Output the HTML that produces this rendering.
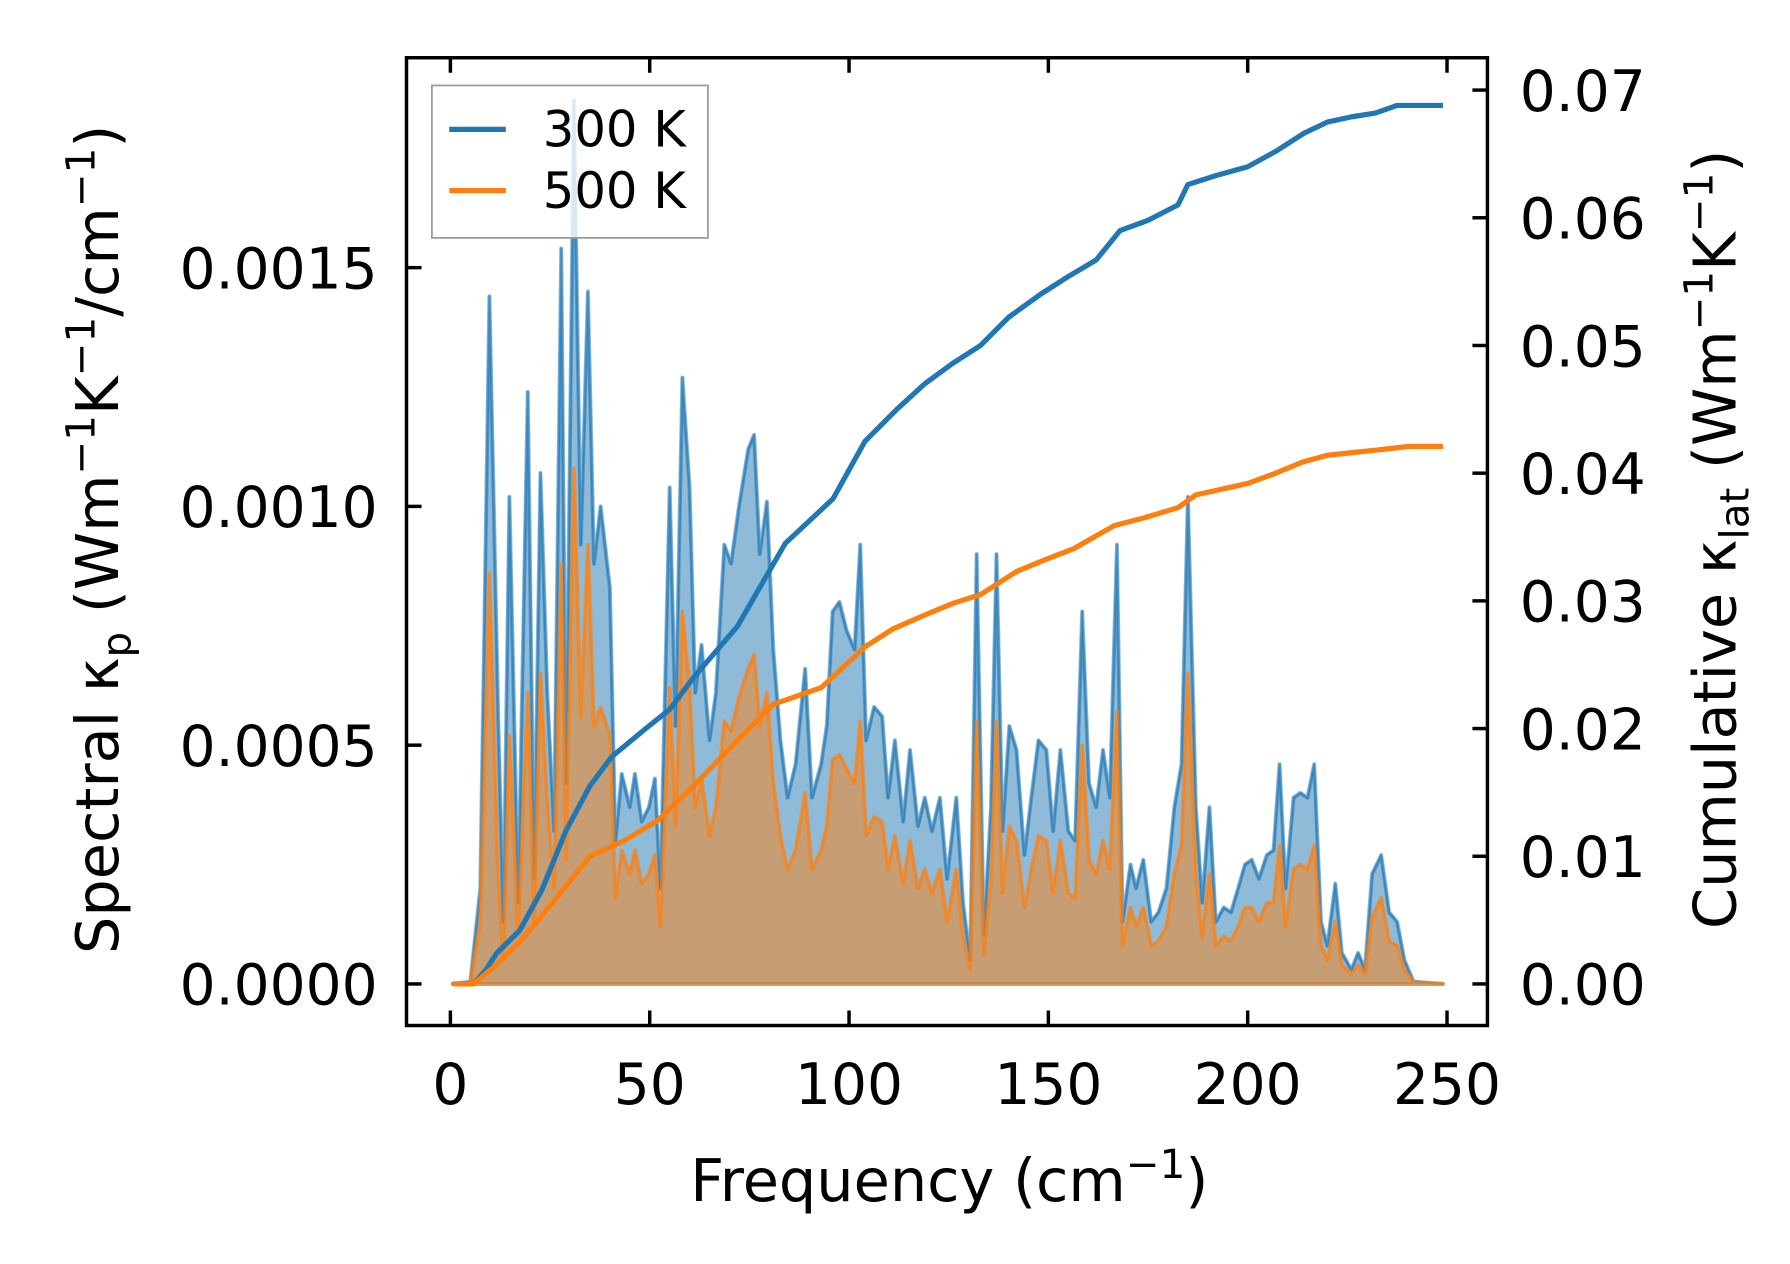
<!DOCTYPE html>
<html><head><meta charset="utf-8"><style>
html,body{margin:0;padding:0;background:#fff;}
svg{display:block;font-family:"DejaVu Sans","Liberation Sans",sans-serif;}
</style></head><body>
<svg id="chart" width="1790" height="1264" viewBox="0 0 1550 1094.5" preserveAspectRatio="none" xmlns="http://www.w3.org/2000/svg">
<g id="plot"></g>
<g id="axes"></g>
</svg>
<script>
// spectral data (freq in cm^-1, values in 1e-4 Wm^-1K^-1/cm^-1)
const freqs = [0.6,5,7.5,9.8,12,13.3,14.8,17,19.4,21,22.6,24.3,26,27.8,29,31,32.7,34.5,36,37.7,40,41.4,43,45,46.3,48,49.8,51.3,52.7,55,56.5,58.2,60,61.4,63,65,66.6,68.7,70.4,72.4,74.7,76.2,77.6,79.4,81,82.8,84.6,86.6,89,90.7,93,94.4,95.9,97.6,99.4,101.4,102.8,104.3,106.3,108.3,109.8,111.5,113.6,115.3,117.3,119,120.8,122.8,124.6,126.9,128.6,130.4,132,133.8,135.6,137,138.5,140.2,142,144,145.7,147.5,149.5,151.2,153,155,156.7,158.5,160.2,162,163.7,165.4,167.2,168.6,170.6,172,173.8,175.8,177.6,179.6,181.6,183.4,185,187,188.6,190.4,192,194,195.8,197.6,199.3,201,202.8,204.8,206.5,208,209.5,211.5,213.2,215,216.7,218.4,220,222,223.6,226,227.7,229.4,231.2,233.5,235.5,237.5,239.3,241.6,249];
const spec300 = [0,0.05,2,14.4,5.6,1.3,10.2,1.7,12.4,2.2,10.7,6.1,3.2,15.4,4.2,18.5,9.2,14.5,8.8,10,8.3,3,4.4,3.7,4.4,3.4,3.7,4.3,2,10.4,5.4,12.7,10.4,6.1,7.1,5.1,6.1,9.2,8.8,10,11.2,11.5,9,10.1,7,5.1,3.9,4.6,6.6,3.9,4.6,5.4,7.8,8,7.4,7,9.2,5.1,5.8,5.6,3.9,5.1,3.4,4.9,3.3,3.9,3.2,3.9,2.2,3.9,1.7,0.5,9,1,3.7,9,3.2,5.4,4.9,2.7,3.9,5.1,4.9,3.2,4.9,3.2,3,7.8,4.2,3.7,4.9,3.9,9.2,1.3,2.5,2,2.6,1.3,1.5,2,3.7,4.6,10.2,3.7,1.7,3.7,1.3,1.6,1.5,2,2.5,2.6,2.2,2.7,2.8,4.6,2,3.9,4,3.9,4.6,1.3,0.8,2.1,0.65,0.3,0.65,0.3,2.3,2.7,1.5,1.3,0.5,0.05,0];
const spec500 = [0,0.03,1.3,8.6,2.2,0.5,5.2,1,6.1,1.3,6.5,3.8,2,8.8,2.6,10.8,5.6,9.2,5.4,5.8,5.2,1.8,2.8,2.3,2.8,2.1,2.3,2.7,1.2,6.2,3.3,7.8,6.2,3.7,4.3,3.1,3.7,5.5,5.3,6,6.6,6.9,5.4,6.1,4.2,3.1,2.4,2.8,4,2.4,2.8,3.3,4.7,4.8,4.5,4.2,5.5,3.1,3.5,3.4,2.4,3.1,2.1,3,2,2.4,1.9,2.4,1.3,2.4,1,0.3,5.5,0.6,2.2,5.5,1.9,3.3,3,1.6,2.4,3.1,3,1.9,3,1.9,1.8,5,2.6,2.3,3,2.4,5.7,0.8,1.6,1.2,1.6,0.8,0.9,1.2,2.3,2.9,6.5,2.3,1,2.3,0.8,1,0.9,1.2,1.6,1.6,1.3,1.7,1.7,2.9,1.2,2.4,2.5,2.4,2.9,0.8,0.5,1.3,0.4,0.2,0.4,0.2,1.4,1.8,0.9,0.8,0.3,0.03,0];
// cumulative data (units 1e-3 Wm^-1K^-1)
const cumFreq300 = [0.6,5.8,8.7,11.6,17.4,23,29,35,40.5,49,55,61,72,84,96,104,112,119,126,133,140,148,155,162,168,175,182.5,185,192,200,207,214,220,226,232,237.5,249];
const cum300 = [0,0,1,2.4,4.2,7.4,12,15.5,17.8,20,21.5,24,28,34.5,38,42.5,45,47,48.6,50,52.2,54,55.4,56.7,59,59.8,61,62.6,63.3,64,65.2,66.6,67.5,67.9,68.2,68.8,68.8];
const cumFreq500 = [0.6,5.8,11.6,17.4,26,35,43.5,52,61,72.4,81,93,104,111,119,126,133,142,149,156.4,166.5,174,182.5,187,200,207,214,220,232,240.5,249];
const cum500 = [0,0,1.5,3.3,6.5,10,11.2,12.8,15.5,19.2,21.9,23.2,26.4,27.8,28.9,29.8,30.5,32.3,33.2,34.1,35.9,36.5,37.3,38.3,39.2,40,40.9,41.4,41.8,42.1,42.1];
const xTicks = [0,50,100,150,200,250];
const yLeftTicks = [0,0.0005,0.0010,0.0015];
const yLeftLabels = ["0.0000","0.0005","0.0010","0.0015"];
const yRightTicks = [0,0.01,0.02,0.03,0.04,0.05,0.06,0.07];
const yRightLabels = ["0.00","0.01","0.02","0.03","0.04","0.05","0.06","0.07"];

const L=352,R=1288,T=50,B=888;
const xs = f => 390 + f*(1253-390)/250;
const yl = v => 852 - v*413500;
const yr = v => 852 - v*11057;
const NS="http://www.w3.org/2000/svg";
const plot=document.getElementById('plot'), axes=document.getElementById('axes');
function mk(tag,parent,attrs){const e=document.createElementNS(NS,tag);for(const k in attrs)e.setAttribute(k,attrs[k]);parent.appendChild(e);return e;}

function specPath(vals){return freqs.map((f,i)=>(i?'L':'M')+xs(f).toFixed(1)+','+yl(vals[i]*1e-4).toFixed(1)).join('');}
[[spec300,'#1f77b4','300'],[spec500,'#ff7f0e','500']].forEach(([vals,c,n])=>{
  const line=specPath(vals);
  const area=mk('path',plot,{d:line+'L'+xs(freqs[freqs.length-1])+','+yl(0)+'L'+xs(freqs[0])+','+yl(0)+'Z',fill:c,'fill-opacity':0.5,stroke:c,'stroke-opacity':0.5,'stroke-width':3.5,'stroke-linejoin':'round'});
  
  
  const ln=mk('path',plot,{d:line,fill:'none',stroke:c,'stroke-opacity':0.6,'stroke-width':2,'stroke-linejoin':'round'});
  
  
});
[[cumFreq300,cum300,'#1f77b4','300'],[cumFreq500,cum500,'#ff7f0e','500']].forEach(([fq,vals,c,n])=>{
  const d=fq.map((f,i)=>(i?'L':'M')+xs(f).toFixed(1)+','+yr(vals[i]*1e-3).toFixed(1)).join('');
  const ln=mk('path',plot,{d:d,fill:'none',stroke:c,'stroke-width':4.5,'stroke-linejoin':'round'});
  
  
});

const fr=mk('rect',axes,{x:L,y:T,width:R-L,height:B-T,fill:'none',stroke:'#000','stroke-width':3});


xTicks.forEach(t=>{
  const x=xs(t);
  mk('line',axes,{x1:x,x2:x,y1:B,y2:B-13,stroke:'#000','stroke-width':3});
  mk('line',axes,{x1:x,x2:x,y1:T,y2:T+13,stroke:'#000','stroke-width':3});
  const tx=mk('text',axes,{x:x,y:B+68,'font-size':49,'text-anchor':'middle'});tx.textContent=t;
  
  
});
yLeftTicks.forEach((t,i)=>{
  const y=yl(t);
  mk('line',axes,{x1:L,x2:L+13,y1:y,y2:y,stroke:'#000','stroke-width':3});
  const tx=mk('text',axes,{x:L-25,y:y+18,'font-size':49,'text-anchor':'end'});tx.textContent=yLeftLabels[i];
  
  
});
yRightTicks.forEach((t,i)=>{
  const y=yr(t);
  mk('line',axes,{x1:R,x2:R-13,y1:y,y2:y,stroke:'#000','stroke-width':3});
  const tx=mk('text',axes,{x:R+28,y:y+18,'font-size':49,'text-anchor':'start'});tx.textContent=yRightLabels[i];
  
  
});
</script>
<svg style="position:absolute;left:0;top:0" width="1790" height="1264" viewBox="0 0 1550 1094.5" preserveAspectRatio="none" xmlns="http://www.w3.org/2000/svg" font-family="DejaVu Sans, Liberation Sans, sans-serif">
<g>
<rect x="374" y="74" width="239" height="132" fill="#fff" fill-opacity="0.8" stroke="#999" stroke-width="1.5"/>
<line x1="389" x2="438" y1="112" y2="112" stroke="#1f77b4" stroke-width="4.5"/>
<text x="470" y="127" font-size="43">300 K</text>
<line x1="389" x2="438" y1="165" y2="165" stroke="#ff7f0e" stroke-width="4.5"/>
<text x="470" y="180" font-size="43">500 K</text>
</g>
<text x="822" y="1040" font-size="51" text-anchor="middle">Frequency (cm<tspan font-size="35" dy="-20">−1</tspan><tspan dy="20">)</tspan></text>
<text transform="translate(102,467) rotate(-90)" font-size="51" text-anchor="middle">Spectral κ<tspan font-size="35" dy="11">p</tspan><tspan dy="-11"> (Wm</tspan><tspan font-size="35" dy="-20">−1</tspan><tspan dy="20">K</tspan><tspan font-size="35" dy="-20">−1</tspan><tspan dy="20">/cm</tspan><tspan font-size="35" dy="-20">−1</tspan><tspan dy="20">)</tspan></text>
<text transform="translate(1503,467) rotate(-90)" font-size="51" text-anchor="middle">Cumulative κ<tspan font-size="35" dy="11">lat</tspan><tspan dy="-11"> (Wm</tspan><tspan font-size="35" dy="-20">−1</tspan><tspan dy="20">K</tspan><tspan font-size="35" dy="-20">−1</tspan><tspan dy="20">)</tspan></text>
</svg>
</body></html>
